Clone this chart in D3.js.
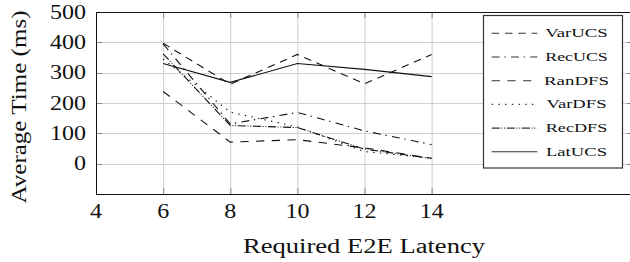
<!DOCTYPE html>
<html>
<head>
<meta charset="utf-8">
<script src="https://cdn.jsdelivr.net/npm/d3@7"></script>
</head>
<body style="margin:0; background:#fff">
<div id="graf"></div>
<script>
// Datos
latencias = [6, 8, 10, 12, 14]
series    = ['VarUCS', 'RecUCS', 'RanDFS', 'VarDFS', 'RecDFS', 'LatUCS']
varUCS    = [397, 262, 360, 263, 360]
recUCS    = [395, 131, 169, 108, 63]
ranDFS    = [238, 71, 79, 52, 18]
varDFS    = [345, 170, 121, 40, 18]
recDFS    = [362, 126, 119, 48, 17]
latUCS    = [330, 268, 330, 311, 287]
ticksX    = [4, 6, 8, 10, 12, 14]
ticksY    = [0, 100, 200, 300, 400, 500]

valores = [varUCS, recUCS, ranDFS, varDFS, recDFS, latUCS]
// patron de linea de cada serie
trazos  = ['7.5,5.8', '8,4.6,1.4,5.3', '8.3,7.4', '1.4,5.3', '8,1.7,1,1.7,1,1.7', null]
// ancho de los textos de la leyenda (la fuente original es mas ancha)
anchoLeyenda = [62.5, 62.5, 65, 60, 61.5, 61]
fuente = "'Liberation Serif'"

ancho_total = 630
alto_total  = 262

svg = d3.select('#graf').append('svg')
        .attr('width', ancho_total)
        .attr('height', alto_total)

// Escaladores (el eje x llega hasta 20, fuera de la imagen)
x = d3.scaleLinear().domain([4, 20]).range([96, 633])
y = d3.scaleLinear().domain([-100, 500]).range([194, 12])

// Rejilla
svg.append('g').selectAll('line').data(ticksX.slice(1))
   .enter().append('line')
   .attr('x1', d => x(d) + 0.5).attr('x2', d => x(d) + 0.5)
   .attr('y1', y(500)).attr('y2', y(-100))
   .attr('stroke', '#cfcfcf')
svg.append('g').selectAll('line').data(ticksY.slice(0, -1))
   .enter().append('line')
   .attr('y1', d => Math.round(y(d)) + 0.5).attr('y2', d => Math.round(y(d)) + 0.5)
   .attr('x1', x(4)).attr('x2', x(20))
   .attr('stroke', '#cfcfcf')

// Marcas de los ejes hacia dentro
marcas = svg.append('g').attr('stroke', '#8a8a8a')
ticksX.slice(1).forEach(d => {
  marcas.append('line').attr('x1', x(d) + 0.5).attr('x2', x(d) + 0.5).attr('y1', y(-100)).attr('y2', y(-100) - 6)
  marcas.append('line').attr('x1', x(d) + 0.5).attr('x2', x(d) + 0.5).attr('y1', y(500)).attr('y2', y(500) + 6)
})
ticksY.slice(0, -1).forEach(d => {
  yy = Math.round(y(d)) + 0.5
  marcas.append('line').attr('x1', x(4)).attr('x2', x(4) + 6).attr('y1', yy).attr('y2', yy)
  marcas.append('line').attr('x1', x(20)).attr('x2', x(20) - 6).attr('y1', yy).attr('y2', yy)
})

// Marco
svg.append('rect')
   .attr('x', x(4) + 0.5).attr('y', y(500) + 0.5)
   .attr('width', x(20) - x(4)).attr('height', y(-100) - y(500))
   .attr('fill', 'none').attr('stroke', '#111')

// Etiquetas de los ejes
svg.append('g').selectAll('text').data(ticksX)
   .enter().append('text')
   .attr('x', d => x(d)).attr('y', 218)
   .attr('text-anchor', 'middle')
   .attr('textLength', d => String(d).length * 12)
   .attr('lengthAdjust', 'spacingAndGlyphs')
   .attr('fill', '#111')
   .style('font-family', fuente)
   .style('font-size', '20px')
   .text(d => d)
svg.append('g').selectAll('text').data(ticksY)
   .enter().append('text')
   .attr('x', 86).attr('y', d => y(d) + 6.6)
   .attr('text-anchor', 'end')
   .attr('textLength', d => String(d).length * 12)
   .attr('lengthAdjust', 'spacingAndGlyphs')
   .attr('fill', '#111')
   .style('font-family', fuente)
   .style('font-size', '20px')
   .text(d => d)

svg.append('text')
   .attr('x', 364).attr('y', 253)
   .attr('text-anchor', 'middle')
   .attr('textLength', 242)
   .attr('lengthAdjust', 'spacingAndGlyphs')
   .attr('fill', '#111')
   .style('font-family', fuente)
   .style('font-size', '20px')
   .text('Required E2E Latency')
svg.append('text')
   .attr('transform', 'translate(26, 107) rotate(-90)')
   .attr('text-anchor', 'middle')
   .attr('textLength', 193)
   .attr('lengthAdjust', 'spacingAndGlyphs')
   .attr('fill', '#111')
   .style('font-family', fuente)
   .style('font-size', '20px')
   .text('Average Time (ms)')

// Lineas
linea = d3.line().x((d, i) => x(latencias[i])).y(d => y(d))
svg.append('g').selectAll('path').data(valores)
   .enter().append('path')
   .attr('d', d => linea(d))
   .attr('fill', 'none')
   .attr('stroke', '#111')
   .attr('stroke-width', 1.1)
   .attr('stroke-dasharray', (d, i) => trazos[i])

// Leyenda
leyenda = svg.append('g')
leyenda.append('rect')
       .attr('x', 483.5).attr('y', 15.5).attr('width', 139).attr('height', 152.5)
       .attr('fill', '#fff').attr('stroke', '#333').attr('stroke-width', 1.2)
series.forEach((s, i) => {
  yl = 33.3 + i * 23.7
  leyenda.append('line')
         .attr('x1', 491.7).attr('x2', 537.3).attr('y1', yl).attr('y2', yl)
         .attr('stroke', '#333').attr('stroke-width', 1.1)
         .attr('stroke-dasharray', trazos[i])
  leyenda.append('text')
         .attr('x', 576.5).attr('y', yl + 4)
         .attr('text-anchor', 'middle')
         .attr('textLength', anchoLeyenda[i])
         .attr('lengthAdjust', 'spacingAndGlyphs')
         .attr('fill', '#111')
         .style('font-family', fuente)
         .style('font-size', '13px')
         .text(s)
})
</script>
</body>
</html>
